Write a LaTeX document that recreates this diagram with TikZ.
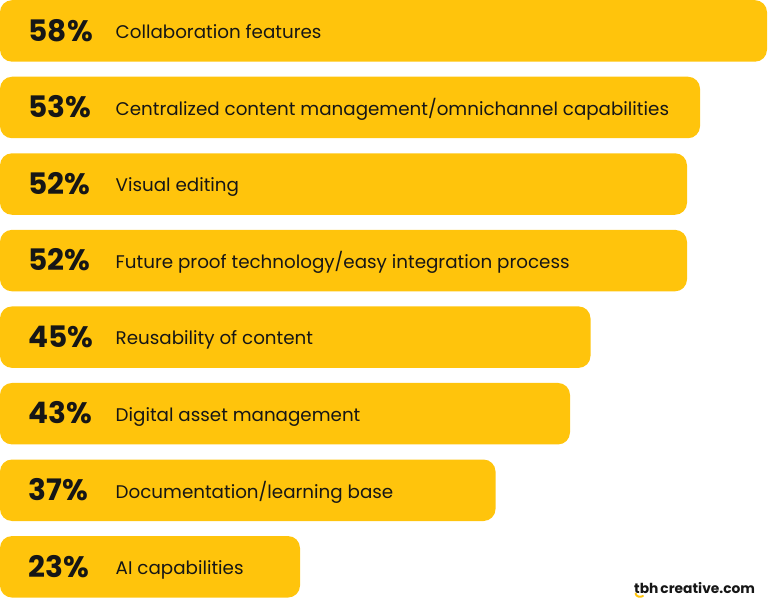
\documentclass[tikz,border=0pt]{standalone}
\usepackage{fontspec}
\setmainfont{Poppins}
\definecolor{baryellow}{HTML}{FFC40C}
\definecolor{ink}{HTML}{161616}
\tikzset{
  bar/.style={fill=baryellow, draw=none, rounded corners=12pt},
  pct/.style={anchor=base west, inner sep=0pt, font=\fontsize{29.6}{30}\selectfont\bfseries, text=ink},
  lbl/.style={anchor=base west, inner sep=0pt, font=\fontsize{18.3}{20}\selectfont, text=ink},
  logo/.style={anchor=base west, inner sep=0pt, font=\fontsize{13.8}{15}\selectfont\bfseries, text=ink}
}
\begin{document}
\begin{tikzpicture}[x=1pt,y=-1pt]
\useasboundingbox (0,0) rectangle (768,601);
\foreach \i/\w/\p/\t in {
  0/767/58\%/Collaboration features,
  1/700/53\%/Centralized content management\slash omnichannel capabilities,
  2/687/52\%/Visual editing,
  3/687/52\%/Future proof technology\slash easy integration process,
  4/590.5/45\%/Reusability of content,
  5/570/43\%/Digital asset management,
  6/495.5/37\%/Documentation\slash learning base,
  7/300/23\%/AI capabilities}
{
  \pgfmathsetmacro{\top}{0.2+76.55*\i}
  \draw[bar] (0,\top) rectangle (\w,\top+61.5) node[midway, inner sep=0pt] (bar\i) {};
  \node[pct] (pct\i) at (28.5,\top+41) {\p};
  \node[lbl] (lbl\i) at (115.5,\top+38.5) {\t};
}
\node[logo] (logo) at (634,593) {tbh\hspace{2pt}creative.com};
\draw[baryellow, line width=2pt, line cap=round] (635.5,593.5) .. controls (636.5,597) and (640,597.5) .. (643,596);
\end{tikzpicture}
\end{document}
